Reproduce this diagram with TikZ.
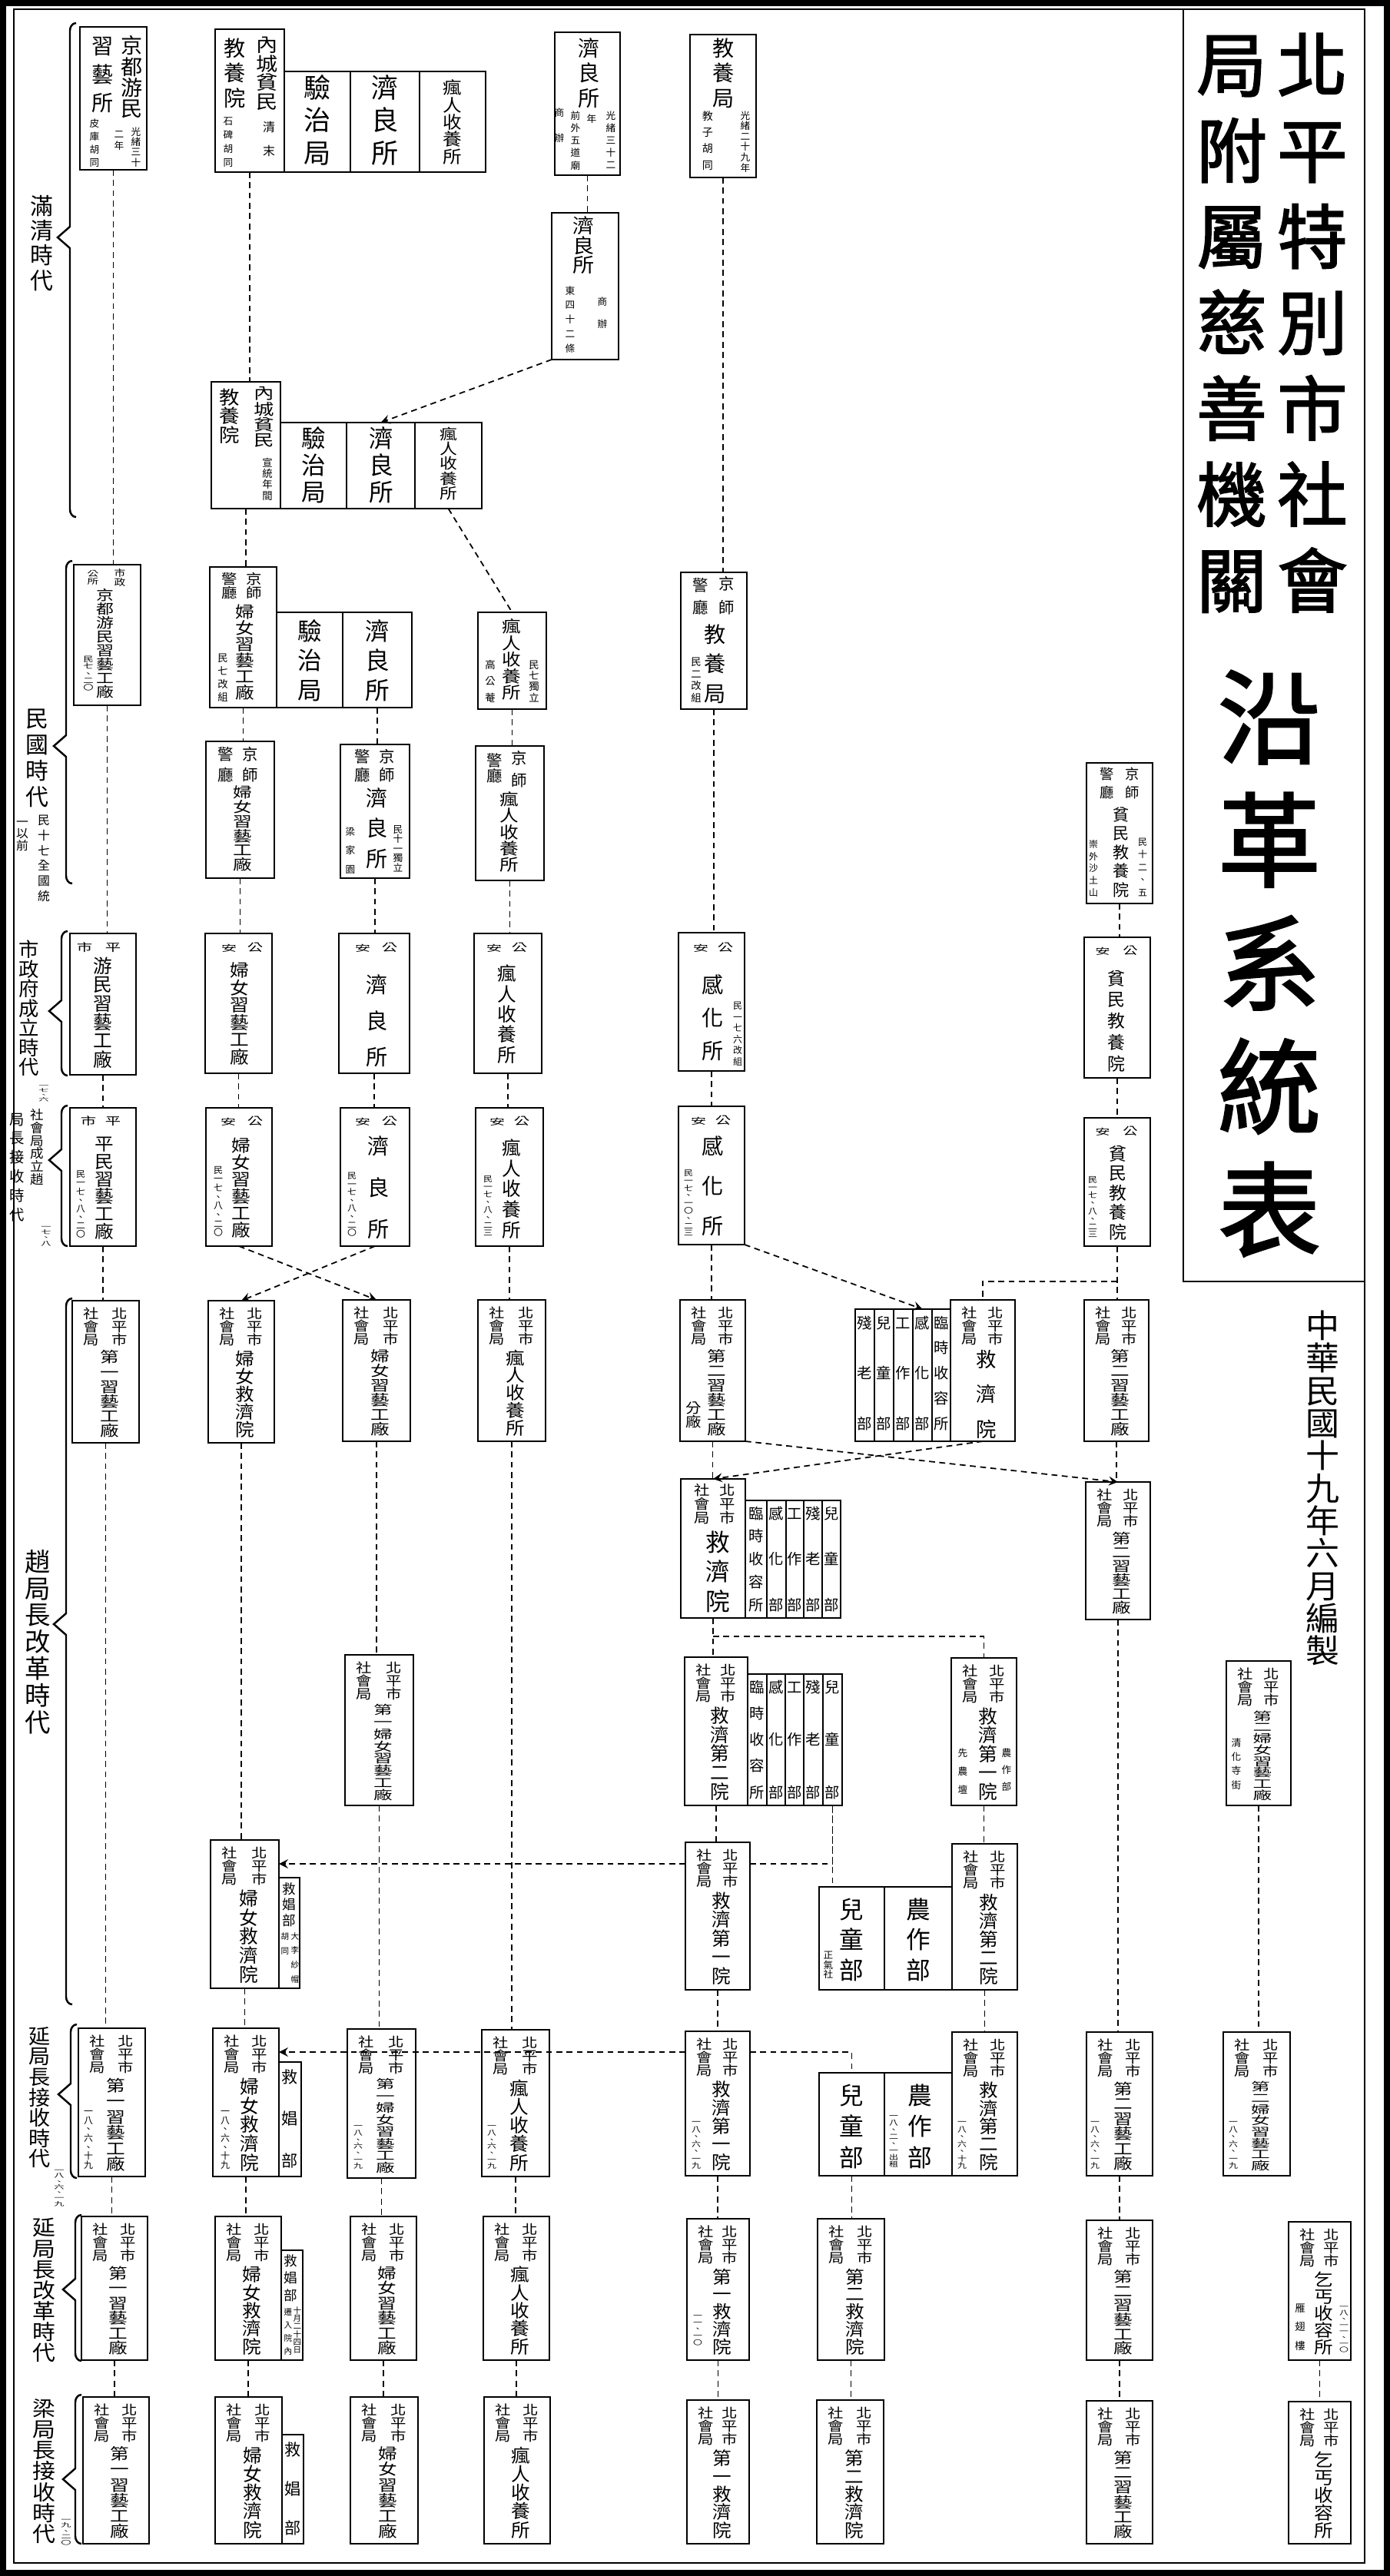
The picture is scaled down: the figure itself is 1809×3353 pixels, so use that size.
\documentclass[tikz,border=0pt]{standalone}
\usepackage{fontspec}
\usepackage{tikz}
\usetikzlibrary{arrows}
\newfontfamily\cjk{Noto Sans CJK TC}
\newfontfamily\cjkb{Noto Sans CJK TC}[FakeBold=2]

\ExplSyntaxOn
\seq_new:N \l_vt_seq
\NewDocumentCommand\vt{mm}{
  \seq_clear:N \l_vt_seq
  \exp_args:No \tl_map_inline:nn {#2}
    { \seq_put_right:Nn \l_vt_seq { \hbox_to_wd:nn {1em} { \hss ##1 \hss \rule[-0.12em]{0pt}{1em} } } }
  \vbox_set:Nn \l_tmpa_box { \offinterlineskip \seq_use:Nn \l_vt_seq { } }
  \dim_compare:nNnTF { \box_ht:N \l_tmpa_box + \box_dp:N \l_tmpa_box } > { #1 }
    { \box_resize_to_wd_and_ht_plus_dp:Nnn \l_tmpa_box { \box_wd:N \l_tmpa_box } { #1 }
      \box_use_drop:N \l_tmpa_box }
    { \vbox_to_ht:nn { #1 } { \offinterlineskip \seq_use:Nn \l_vt_seq { \vss } } }
}
\ExplSyntaxOff

\newcounter{tn}
\newcommand{\C}[6][\cjk]{\stepcounter{tn}%
  \node [txt, font=#1\fontsize{#5}{#5}\selectfont] (t\arabic{tn}) at ({#2},{#3})
    {\vt{\dimexpr0.01cm*((#4)-(#3))\relax}{#6}};}
\newcommand{\B}[5]{\node [box, anchor=north west, minimum width=0.01cm*(#4-#2),
    minimum height=0.01cm*(#5-#3)] (#1) at ({#2},{#3}) {};}
\newcommand{\SJ}[7][7]{\B{#2}{#3}{#4}{#5}{#6}%
  \C{#5-25}{#4+8}{#4+60}{5.8}{北平市}%
  \C{#3+25}{#4+8}{#4+60}{5.8}{社會局}%
  \C{(#3+#5)/2+5}{#4+64}{#6-6}{#1}{#7}}
\newcommand{\Era}[4]{\draw [brace] ({#1+8},{#2}) to[out=180,in=90] ({#1},{#2+10})
  -- ({#1},{#3-14}) -- ({#1-16},{#3}) -- ({#1},{#3+14}) -- ({#1},{#4-10})
  to[out=-90,in=180] ({#1+8},{#4});}
\newcommand{\Link}[2]{\draw [link] (#1.south) -- (#1.south |- #2.north);}

\begin{document}
\begin{tikzpicture}
[x=0.01cm, y=-0.01cm,
 box/.style={draw, line width=0.6pt, inner sep=0pt, outer sep=0pt},
 txt/.style={inner sep=0pt, outer sep=0pt, anchor=north},
 link/.style={line width=0.5pt, dash pattern=on 2.2pt off 1.6pt},
 arc/.style={link, ->, >=stealth},
 brace/.style={line width=0.7pt},]

\useasboundingbox (0,0) rectangle (1809,3353);
\draw [line width=2.5pt] (4,4) rectangle (1805,3349);
\draw [line width=0.8pt] (18,12) rectangle (1776,3336);
\draw [line width=0.8pt] (1540,12) -- (1540,1668) -- (1776,1668);

% title
\C[\cjkb]{1708}{38}{790}{26}{北平特別市社會}
\C[\cjkb]{1603}{38}{790}{26}{局附屬慈善機關}
\C[\cjkb]{1652}{866}{1625}{38}{沿革系統表}
\C{1721}{1704}{2170}{12.5}{中華民國十九年六月編製}

% eras
\Era{91}{30}{309}{673}
\Era{86}{730}{971}{1150}
\Era{80}{1212}{1316}{1400}
\Era{80}{1439}{1510}{1622}
\Era{86}{1690}{2114}{2609}
\Era{92}{2635}{2726}{2835}
\Era{98}{2883}{2980}{3073}
\Era{98}{3117}{3227}{3311}
\C{54}{253}{376}{8.5}{滿清時代}
\C{48}{920}{1048}{8.5}{民國時代}
\C{57}{1060}{1172}{4.5}{民十七全國統}
\C{29}{1062}{1108}{4.5}{一以前}
\C{38}{1223}{1402}{7.5}{市政府成立時代}
\C{57}{1410}{1434}{3.8}{一七、六}
\C{48}{1443}{1543}{5}{社會局成立趙}
\C{22}{1447}{1588}{5.5}{局長接收時代}
\C{60}{1593}{1622}{3.8}{一七、八}
\C{49}{2016}{2254}{9.5}{趙局長改革時代}
\C{52}{2637}{2823}{8}{延局長接收時代}
\C{77}{2821}{2872}{3.8}{一八、六、一九}
\C{57}{2886}{3076}{8.5}{延局長改革時代}
\C{57}{3121}{3312}{8.5}{梁局長接收時代}
\C{86}{3276}{3313}{3.8}{一九、二〇}

% qing
\B{q1a}{104}{35}{191}{221}
\C{172}{46}{155}{8}{京都游民}
\C{134}{46}{144}{8}{習藝所}
\C{177}{165}{216}{3.6}{光緒三十}
\C{155}{168}{194}{3.6}{二年}
\C{123}{154}{216}{3.6}{皮庫胡同}
\B{q1b}{280}{38}{370}{224}
\B{q1b1}{370}{93}{456}{224}
\B{q1b2}{456}{93}{546}{224}
\B{q1b3}{546}{93}{632}{224}
\C{348}{46}{144}{8}{內城貧民}
\C{306}{49}{138}{8}{教養院}
\C{350}{158}{202}{4.5}{清末}
\C{297}{151}{216}{3.6}{石碑胡同}
\C{413}{97}{212}{10}{驗治局}
\C{501}{97}{212}{10}{濟良所}
\C{589}{103}{215}{7}{瘋人收養所}
\B{q1c}{722}{42}{807}{228}
\C{767}{49}{138}{8}{濟良所}
\C{795}{144}{219}{3.6}{光緒三十二}
\C{770}{148}{162}{3.6}{年}
\C{749}{144}{220}{3.6}{前外五道廟}
\C{728}{140}{184}{3.6}{商辦}
\B{q1d}{718}{277}{805}{468}
\C{760}{281}{358}{8}{濟良所}
\C{784}{386}{426}{3.6}{商辦}
\C{742}{372}{458}{3.6}{東四十二條}
\B{q1e}{898}{45}{984}{231}
\C{942}{49}{138}{8}{教養局}
\C{970}{144}{223}{3.6}{光緒二十九年}
\C{921}{144}{220}{4}{教子胡同}
\B{q2b}{275}{497}{365}{662}
\B{q2b1}{365}{550}{451}{662}
\B{q2b2}{451}{550}{540}{662}
\B{q2b3}{540}{550}{627}{662}
\C{344}{502}{583}{7.5}{內城貧民}
\C{299}{505}{578}{7.5}{教養院}
\C{348}{596}{650}{3.8}{宣統年間}
\C{408}{555}{652}{9}{驗治局}
\C{496}{555}{652}{9}{濟良所}
\C{584}{555}{652}{6.5}{瘋人收養所}

% minguo
\B{m3a}{96}{735}{183}{918}
\C{156}{740}{764}{4.2}{市政}
\C{121}{742}{762}{4.2}{公所}
\C{137}{766}{910}{6.5}{京都游民習藝工廠}
\C{115}{853}{900}{3.8}{民七、二〇}
\B{m3b}{273}{738}{360}{921}
\B{m3b1}{360}{797}{446}{921}
\B{m3b2}{446}{797}{536}{921}
\C{331}{745}{781}{5.8}{京師}
\C{299}{745}{781}{5.8}{警廳}
\C{319}{786}{912}{7}{婦女習藝工廠}
\C{290}{850}{912}{3.8}{民七改組}
\C{403}{806}{910}{9}{驗治局}
\C{491}{806}{910}{9}{濟良所}
\B{m3d}{622}{797}{711}{923}
\C{666}{805}{912}{7}{瘋人收養所}
\C{695}{859}{913}{3.8}{民七獨立}
\C{638}{859}{913}{3.8}{高公菴}
\B{m3e}{886}{745}{972}{923}
\C{946}{750}{798}{5.8}{京師}
\C{912}{752}{798}{5.8}{警廳}
\C{931}{812}{913}{8}{教養局}
\C{906}{855}{913}{3.8}{民二改組}
\B{m4b}{268}{965}{357}{1143}
\C{326}{972}{1016}{5.8}{京師}
\C{294}{972}{1016}{5.8}{警廳}
\C{316}{1022}{1135}{7}{婦女習藝工廠}
\B{m4c}{443}{969}{533}{1143}
\C{504}{975}{1016}{5.8}{京師}
\C{472}{975}{1016}{5.8}{警廳}
\C{491}{1025}{1128}{8}{濟良所}
\C{518}{1073}{1136}{3.6}{民十一獨立}
\C{456}{1076}{1136}{3.6}{梁家園}
\B{m4d}{619}{971}{708}{1146}
\C{676}{977}{1023}{5.8}{京師}
\C{644}{980}{1020}{5.8}{警廳}
\C{663}{1030}{1136}{7}{瘋人收養所}
\B{m4h}{1414}{993}{1500}{1176}
\C{1474}{998}{1038}{5.2}{京師}
\C{1441}{998}{1038}{5.2}{警廳}
\C{1459}{1050}{1166}{6}{貧民教養院}
\C{1487}{1090}{1166}{3.4}{民十二、五}
\C{1423}{1093}{1166}{3.4}{崇外沙土山}

\B{m5a}{91}{1215}{177}{1399}
\C{147}{1226}{1240}{5.8}{平}
\C{110}{1226}{1240}{5.8}{市}
\C{134}{1245}{1391}{7}{游民習藝工廠}
\B{m5b}{267}{1215}{354}{1397}
\C{332}{1226}{1240}{5.8}{公}
\C{298}{1229}{1240}{5.8}{安}
\C{312}{1252}{1387}{7}{婦女習藝工廠}
\B{m5c}{441}{1215}{533}{1397}
\C{507}{1226}{1240}{5.8}{公}
\C{472}{1229}{1240}{5.8}{安}
\C{491}{1268}{1386}{8}{濟良所}
\B{m5d}{617}{1215}{705}{1397}
\C{676}{1226}{1240}{5.8}{公}
\C{643}{1229}{1240}{5.8}{安}
\C{660}{1255}{1382}{7}{瘋人收養所}
\B{m5e}{883}{1214}{969}{1394}
\C{944}{1226}{1240}{5.8}{公}
\C{912}{1229}{1240}{5.8}{安}
\C{928}{1268}{1378}{8}{感化所}
\C{960}{1303}{1386}{3.4}{民一七六改組}
\B{m5h}{1411}{1220}{1497}{1403}
\C{1471}{1230}{1244}{5.5}{公}
\C{1435}{1233}{1244}{5.5}{安}
\C{1453}{1262}{1393}{6.5}{貧民教養院}

\B{m6a}{91}{1442}{177}{1622}
\C{147}{1452}{1466}{5.8}{平}
\C{115}{1452}{1466}{5.8}{市}
\C{136}{1478}{1614}{7}{平民習藝工廠}
\C{105}{1523}{1612}{3.4}{民一七、八、二〇}
\B{m6b}{268}{1442}{354}{1622}
\C{332}{1452}{1466}{5.8}{公}
\C{297}{1455}{1466}{5.8}{安}
\C{314}{1480}{1612}{7}{婦女習藝工廠}
\C{284}{1517}{1610}{3.4}{民一七、八、二〇}
\B{m6c}{443}{1442}{533}{1622}
\C{507}{1452}{1466}{5.8}{公}
\C{472}{1455}{1466}{5.8}{安}
\C{493}{1478}{1610}{8}{濟良所}
\C{458}{1525}{1610}{3.4}{民一七、八、二〇}
\B{m6d}{619}{1442}{707}{1622}
\C{679}{1452}{1466}{5.8}{公}
\C{647}{1455}{1466}{5.8}{安}
\C{666}{1482}{1610}{7}{瘋人收養所}
\C{635}{1530}{1610}{3.4}{民一七、八、二三}
\B{m6e}{883}{1440}{969}{1620}
\C{941}{1451}{1465}{5.8}{公}
\C{909}{1454}{1465}{5.8}{安}
\C{928}{1478}{1606}{8}{感化所}
\C{896}{1522}{1610}{3.4}{民一七、一〇、二三}
\B{m6h}{1411}{1455}{1497}{1622}
\C{1471}{1465}{1479}{5.5}{公}
\C{1435}{1468}{1479}{5.5}{安}
\C{1455}{1490}{1612}{6.5}{貧民教養院}
\C{1422}{1530}{1612}{3.4}{民一七、八、二三}

% social bureau
\SJ{r7a}{94}{1693}{181}{1878}{第一習藝工廠}
\SJ{r7b}{271}{1693}{357}{1878}{婦女救濟院}
\SJ{r7c}{446}{1692}{534}{1876}{婦女習藝工廠}
\SJ{r7d}{622}{1692}{710}{1876}{瘋人收養所}
\SJ{r7e}{885}{1692}{970}{1876}{第二習藝工廠}
\C{903}{1824}{1860}{5.8}{分廠}
\SJ[7.5]{r7f}{1237}{1692}{1321}{1876}{救濟院}
\B{r7f1}{1113}{1704}{1138}{1876} \C{1125}{1712}{1860}{5.5}{殘老部}
\B{r7f2}{1138}{1704}{1163}{1876} \C{1150}{1712}{1860}{5.5}{兒童部}
\B{r7f3}{1163}{1704}{1188}{1876} \C{1175}{1712}{1860}{5.5}{工作部}
\B{r7f4}{1188}{1704}{1213}{1876} \C{1200}{1712}{1860}{5.5}{感化部}
\B{r7f5}{1213}{1704}{1237}{1876} \C{1225}{1712}{1860}{5.5}{臨時收容所}
\SJ{r7h}{1411}{1692}{1495}{1876}{第二習藝工廠}

\B{r8e}{886}{1925}{970}{2106}
\C{947}{1931}{1985}{5.8}{北平市}
\C{914}{1931}{1985}{5.8}{社會局}
\C{934}{1992}{2096}{9}{救濟院}
\B{r8e1}{970}{1953}{998}{2106} \C{984}{1960}{2096}{5.5}{臨時收容所}
\B{r8e2}{998}{1953}{1023}{2106} \C{1010}{1960}{2096}{5.5}{感化部}
\B{r8e3}{1023}{1953}{1046}{2106} \C{1034}{1960}{2096}{5.5}{工作部}
\B{r8e4}{1046}{1953}{1070}{2106} \C{1058}{1960}{2096}{5.5}{殘老部}
\B{r8e5}{1070}{1953}{1094}{2106} \C{1082}{1960}{2096}{5.5}{兒童部}
\SJ{r8h}{1413}{1929}{1497}{2108}{第二習藝工廠}

\SJ{r85c}{449}{2154}{538}{2350}{第一婦女習藝工廠}
\SJ{r85e}{891}{2157}{973}{2350}{救濟第二院}
\B{r85e1}{973}{2179}{998}{2350} \C{985}{2186}{2340}{5.5}{臨時收容所}
\B{r85e2}{998}{2179}{1022}{2350} \C{1010}{2186}{2340}{5.5}{感化部}
\B{r85e3}{1022}{2179}{1046}{2350} \C{1034}{2186}{2340}{5.5}{工作部}
\B{r85e4}{1046}{2179}{1071}{2350} \C{1058}{2186}{2340}{5.5}{殘老部}
\B{r85e5}{1071}{2179}{1096}{2350} \C{1083}{2186}{2340}{5.5}{兒童部}
\SJ{r85f}{1238}{2158}{1323}{2350}{救濟第一院}
\C{1310}{2275}{2330}{3.6}{農作部}
\C{1253}{2275}{2334}{3.6}{先農壇}
\SJ{r85i}{1596}{2162}{1680}{2350}{第二婦女習藝工廠}
\C{1609}{2262}{2328}{3.6}{清化寺街}

\SJ{r9b}{274}{2395}{363}{2588}{婦女救濟院}
\B{r9bs}{363}{2444}{390}{2588}
\C{376}{2450}{2506}{5}{救娼部}
\C{384}{2515}{2580}{3}{大李紗帽}
\C{371}{2515}{2543}{3}{胡同}
\SJ{r9e}{892}{2398}{976}{2590}{救濟第一院}
\B{r9f1}{1066}{2456}{1151}{2590}
\B{r9f2}{1151}{2456}{1239}{2590}
\C{1108}{2470}{2576}{9}{兒童部}
\C{1078}{2539}{2576}{3.6}{正氣社}
\C{1195}{2470}{2576}{9}{農作部}
\SJ{r9f}{1239}{2400}{1324}{2590}{救濟第二院}

\SJ{r10a}{102}{2640}{189}{2833}{第一習藝工廠}
\C{115}{2742}{2824}{3.4}{一八、六、十九}
\SJ{r10b}{277}{2640}{363}{2833}{婦女救濟院}
\C{293}{2742}{2824}{3.4}{一八、六、十九}
\B{r10bs}{363}{2684}{392}{2833}
\C{377}{2693}{2820}{6}{救娼部}
\SJ{r10c}{452}{2641}{541}{2835}{第一婦女習藝工廠}
\C{466}{2763}{2824}{3.4}{一八、六、一九}
\SJ{r10d}{627}{2642}{715}{2833}{瘋人收養所}
\C{640}{2763}{2824}{3.4}{一八、六、一九}
\SJ{r10e}{892}{2644}{976}{2832}{救濟第一院}
\C{906}{2757}{2824}{3.4}{一八、六、一九}
\B{r10f1}{1066}{2698}{1151}{2832}
\B{r10f2}{1151}{2698}{1239}{2832}
\C{1108}{2712}{2820}{9}{兒童部}
\C{1197}{2712}{2820}{9}{農作部}
\C{1163}{2750}{2822}{3.4}{一八、二、一出租}
\SJ{r10f}{1239}{2645}{1324}{2832}{救濟第二院}
\C{1252}{2757}{2824}{3.4}{一八、六、十九}
\SJ{r10h}{1414}{2645}{1500}{2832}{第二習藝工廠}
\C{1425}{2757}{2824}{3.4}{一八、六、一九}
\SJ{r10i}{1592}{2645}{1679}{2832}{第二婦女習藝工廠}
\C{1605}{2757}{2824}{3.4}{一八、六、一九}

\SJ{r11a}{106}{2885}{192}{3072}{第一習藝工廠}
\SJ{r11b}{280}{2885}{366}{3072}{婦女救濟院}
\B{r11bs}{366}{2929}{394}{3072}
\C{378}{2934}{2994}{5}{救娼部}
\C{387}{3002}{3064}{3}{十月二十四日}
\C{375}{3004}{3064}{3}{遷入院內}
\SJ{r11c}{456}{2885}{542}{3072}{婦女習藝工廠}
\SJ{r11d}{629}{2885}{715}{3072}{瘋人收養所}
\SJ{r11e}{894}{2888}{975}{3072}{第一救濟院}
\C{908}{3010}{3053}{3.4}{一一、一〇}
\SJ{r11f}{1064}{2888}{1151}{3072}{第二救濟院}
\SJ{r11h}{1414}{2890}{1500}{3072}{第二習藝工廠}
\SJ{r11i}{1677}{2892}{1758}{3072}{乞丐收容所}
\C{1749}{2998}{3062}{3.4}{一八、一一、一〇}
\C{1692}{2998}{3058}{3.8}{雁翅樓}

\SJ{r12a}{108}{3120}{194}{3311}{第一習藝工廠}
\SJ{r12b}{280}{3120}{367}{3311}{婦女救濟院}
\B{r12bs}{367}{3169}{395}{3311}
\C{381}{3178}{3298}{6}{救娼部}
\SJ{r12c}{456}{3120}{544}{3311}{婦女習藝工廠}
\SJ{r12d}{630}{3120}{716}{3311}{瘋人收養所}
\SJ{r12e}{894}{3124}{975}{3311}{第一救濟院}
\SJ{r12f}{1063}{3124}{1150}{3311}{第二救濟院}
\SJ{r12h}{1414}{3125}{1500}{3311}{第二習藝工廠}
\SJ{r12i}{1677}{3126}{1758}{3311}{乞丐收容所}

% links
\Link{q1a}{m3a} \Link{m3a}{m5a} \Link{m5a}{m6a} \Link{m6a}{r7a}
\Link{r7a}{r10a} \Link{r10a}{r11a} \Link{r11a}{r12a}
\Link{q1b}{q2b} \Link{q2b}{m3b} \Link{m3b}{m4b} \Link{m4b}{m5b} \Link{m5b}{m6b}
\Link{r7b}{r9b} \Link{r9b}{r10b} \Link{r10b}{r11b} \Link{r11b}{r12b}
\Link{m3b2}{m4c} \Link{m4c}{m5c} \Link{m5c}{m6c}
\Link{r7c}{r85c} \Link{r85c}{r10c} \Link{r10c}{r11c} \Link{r11c}{r12c}
\Link{q1c}{q1d}
\Link{m3d}{m4d} \Link{m4d}{m5d} \Link{m5d}{m6d} \Link{m6d}{r7d}
\Link{r7d}{r10d} \Link{r10d}{r11d} \Link{r11d}{r12d}
\Link{q1e}{m3e} \Link{m3e}{m5e} \Link{m5e}{m6e} \Link{m6e}{r7e}
\Link{r7e}{r8e} \Link{r8e}{r85e} \Link{r85e}{r9e} \Link{r9e}{r10e}
\Link{r10e}{r11e} \Link{r11e}{r12e}
\Link{r85f}{r9f} \Link{r9f}{r10f} \Link{r85e5}{r9f1} \Link{r10f1}{r11f} \Link{r11f}{r12f}
\Link{m4h}{m5h} \Link{m5h}{m6h} \Link{m6h}{r7h} \Link{r7h}{r8h}
\Link{r8h}{r10h} \Link{r10h}{r11h} \Link{r11h}{r12h}
\Link{r85i}{r10i} \Link{r11i}{r12i}

\coordinate (j7) at (0,1668);
\coordinate (j8) at (0,2130);
\coordinate (j9) at (0,2426);
\coordinate (j10) at (0,2671);
\draw [link] (m6h.south |- j7) -| (r7f.north);
\draw [link] (r8e.south |- j8) -| (r85f.north);
\draw [link] (r9e.east |- j9) -| (r85e5.south);
\draw [arc] (r9e.west |- j9) -- (r9b.east |- j9);
\draw [link] (r10e.east |- j10) -| (r10f1.north);
\draw [arc] (r10e.west |- j10) -- (r10b.east |- j10);

\draw [arc] (q1d.south west) -- (q2b2.north);
\draw [link] (q2b3.south) -- (m3d.north);
\draw [arc] (m6b.south) -- (r7c.north);
\draw [arc] (m6c.south) -- (r7b.north);
\draw [arc] (m6e.south east) -- (r7f4.north);
\draw [arc] (r7e.south east) -- (r8h.north);
\draw [arc] (r7f.south) -- (r8e.north);
\end{tikzpicture}
\end{document}
